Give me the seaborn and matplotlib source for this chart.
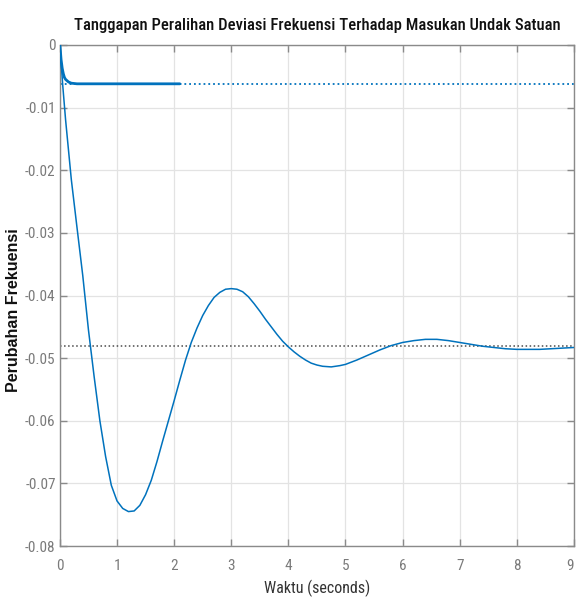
import numpy as np
import pandas as pd
import matplotlib
matplotlib.use("Agg")
import matplotlib.pyplot as plt
import seaborn as sns
from matplotlib.ticker import FuncFormatter

# Respon cepat (berhenti pada ~2.1 s)
t_fast = [0.0, 0.02, 0.04, 0.06, 0.08, 0.10, 0.15, 0.20, 0.30, 0.50, 1.00, 2.10]
y_fast = [0.0, -0.0023, -0.0037, -0.0046, -0.0052, -0.0055, -0.0059, -0.0061,
          -0.0062, -0.0062, -0.0062, -0.0062]

# Respon berosilasi
t_osc = [0.0, 0.05, 0.1, 0.2, 0.3, 0.4, 0.5, 0.6, 0.7, 0.8, 0.9, 1.0, 1.1, 1.2,
         1.3, 1.4, 1.5, 1.6, 1.7, 1.8, 1.9, 2.0, 2.1, 2.2, 2.3, 2.4, 2.5, 2.6,
         2.7, 2.8, 2.9, 3.0, 3.1, 3.2, 3.3, 3.4, 3.5, 3.6, 3.7, 3.8, 3.9, 4.0,
         4.1, 4.2, 4.3, 4.4, 4.5, 4.6, 4.75, 4.9, 5.0, 5.2, 5.4, 5.6, 5.8, 6.0,
         6.2, 6.4, 6.6, 6.8, 7.0, 7.2, 7.4, 7.6, 7.8, 8.0, 8.2, 8.4, 8.6, 8.8, 9.0]
y_osc = [0.0, -0.0065, -0.0120, -0.0215, -0.0292, -0.0368, -0.0455, -0.0530,
         -0.0600, -0.0657, -0.0703, -0.0728, -0.0740, -0.0745, -0.0744, -0.0735,
         -0.0718, -0.0695, -0.0665, -0.0632, -0.0600, -0.0568, -0.0535, -0.0503,
         -0.0475, -0.0452, -0.0432, -0.0416, -0.0403, -0.0395, -0.0390, -0.0389,
         -0.0390, -0.0394, -0.0402, -0.0413, -0.0425, -0.0438, -0.0450, -0.0462,
         -0.0473, -0.0482, -0.0490, -0.0497, -0.0503, -0.0508, -0.0511, -0.0513,
         -0.0514, -0.0512, -0.0510, -0.0503, -0.0495, -0.0487, -0.0480, -0.0475,
         -0.0472, -0.0470, -0.0470, -0.0472, -0.0475, -0.0478, -0.0481, -0.0483,
         -0.0485, -0.0486, -0.0486, -0.0486, -0.0485, -0.0484, -0.0483]

steady_fast = -0.0062
steady_osc = -0.0481

x_ticks = list(range(0, 10))
y_ticks = [0, -0.01, -0.02, -0.03, -0.04, -0.05, -0.06, -0.07, -0.08]

title = "Tanggapan Peralihan Deviasi Frekuensi Terhadap Masukan Undak Satuan"
xlabel = "Waktu (seconds)"
ylabel = "Perubahan Frekuensi"

sns.set_style("whitegrid")
narrow = ["Liberation Sans Narrow", "DejaVu Sans Condensed", "Roboto Condensed",
          "Liberation Sans", "DejaVu Sans"]
plt.rcParams["font.family"] = narrow

blue = "#0072BD"
grid_c = "#e3e3e3"
axis_c = "#8a8a8a"
text_c = "#7a7a7a"

fig = plt.figure(figsize=(5.76, 6.12), dpi=100)
ax = fig.add_axes([0.104, 0.1078, 0.8924, 0.8187])

ax.axhline(steady_fast, color=blue, linestyle=":", linewidth=1.3, zorder=2)
ax.axhline(steady_osc, color="#4a4a4a", linestyle=":", linewidth=1.1, zorder=2)

df_fast = pd.DataFrame({"t": t_fast, "y": y_fast})
df_osc = pd.DataFrame({"t": t_osc, "y": y_osc})
sns.lineplot(data=df_fast, x="t", y="y", ax=ax, color=blue, linewidth=2.0, zorder=3)
sns.lineplot(data=df_osc, x="t", y="y", ax=ax, color=blue, linewidth=1.1, zorder=3)

ax.set_xlim(0, 9)
ax.set_ylim(-0.08, 0)
ax.set_xticks(x_ticks)
ax.set_yticks(y_ticks)
ax.yaxis.set_major_formatter(FuncFormatter(lambda v, p: "0" if abs(v) < 1e-12 else f"{v:.2f}".rstrip("0")))
ax.xaxis.set_major_formatter(FuncFormatter(lambda v, p: f"{v:.0f}"))

ax.grid(True, color=grid_c, linewidth=0.9)
for side in ["left", "bottom", "top", "right"]:
    ax.spines[side].set_visible(True)
    ax.spines[side].set_color(axis_c)
    ax.spines[side].set_linewidth(1.0)
ax.tick_params(axis="both", direction="in", length=5, width=1, color=axis_c,
               labelcolor=text_c, labelsize=11, top=True, right=True,
               bottom=True, left=True)
ax.tick_params(axis="x", pad=9)
ax.tick_params(axis="y", pad=3)
# angka 9 di tepi kanan digeser ke dalam agar tidak terpotong
ax.get_xticklabels()[-1].set_horizontalalignment("right")

ax.set_title(title, fontsize=12, fontweight="medium", color="#111111", pad=11)
ax.set_xlabel(xlabel, fontsize=11.5, color="#333333", labelpad=5)
ax.set_ylabel(ylabel, fontsize=11.5, fontweight="bold", color="#111111",
              family=["Liberation Sans", "DejaVu Sans"])
ax.yaxis.set_label_coords(-0.075, 0.47)

fig.savefig("out.png", dpi=100)
plt.close(fig)
